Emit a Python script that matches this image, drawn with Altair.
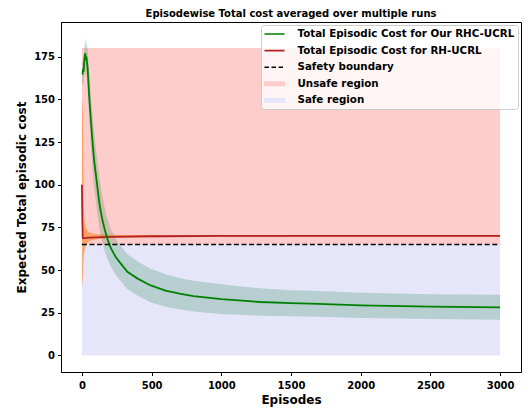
import altair as alt
import pandas as pd

# ---------------- data ----------------
green_ep = [0, 5, 8, 12, 16, 20, 24, 28, 32, 36, 41, 46, 52, 64, 76, 88, 100, 112, 124, 136,
            148, 166, 184, 207, 240, 272, 326, 400, 493, 600, 700, 800, 1000, 1280, 1500,
            1700, 2000, 2500, 3000]
green_mean = [165, 165, 168, 166, 171, 175, 177, 173, 175, 172, 168.6, 161, 152, 138, 125, 114,
              106, 98, 90, 84, 79, 73, 68, 63, 58, 54.5, 49, 45, 41, 38, 36.2, 34.8, 33, 31.3,
              30.6, 30.2, 29.3, 28.6, 28.2]
green_std = [7, 7, 7.5, 8, 8, 8.5, 9, 9, 9.5, 10, 11, 12, 13, 15, 16, 16, 16, 15.5, 15, 14,
             13.5, 12.5, 11.5, 11, 10.5, 10.3, 10.2, 10, 9.8, 9.5, 9.2, 9, 8.7, 8, 7.6, 7.5,
             7.4, 7.3, 7.3]

red_ep = [0, 3, 6, 8, 12, 16, 24, 29, 52, 100, 200, 300, 500, 600, 1000, 2000, 3000]
red_mean = [100, 80, 69, 68.6, 68.6, 68.7, 68.8, 68.9, 69, 69.2, 69.4, 69.6, 69.8, 69.8, 70, 70, 70]
red_hi = [150, 148, 142, 140, 100, 80, 76, 74.5, 72, 71, 70.7, 70.6, 70.5, 70.5, 70.5, 70.4, 70.4]
red_lo = [40, 42, 45, 46, 55, 60, 63, 65, 67, 68, 68.8, 69, 69.2, 69.3, 69.4, 69.5, 69.5]

safety_level = 65
unsafe_top = 180
ep_start, ep_end = 0, 3000

labels = ["Total Episodic Cost for Our RHC-UCRL", "Total Episodic Cost for RH-UCRL",
          "Safety boundary", "Unsafe region", "Safe region"]
colors = ["#008000", "#b22222", "#000000", "#ffcccc", "#e6e6fa"]

x_ticks = [0, 500, 1000, 1500, 2000, 2500, 3000]
y_ticks = [0, 25, 50, 75, 100, 125, 150, 175]

# ---------------- tables ----------------
green_df = pd.DataFrame({"ep": green_ep, "mean": green_mean,
                         "lo": [m - s for m, s in zip(green_mean, green_std)],
                         "hi": [m + s for m, s in zip(green_mean, green_std)],
                         "series": labels[0]})
red_df = pd.DataFrame({"ep": red_ep, "mean": red_mean, "lo": red_lo, "hi": red_hi,
                       "series": labels[1]})
bound_df = pd.DataFrame({"x0": [ep_start], "x1": [ep_end], "y": [safety_level],
                         "series": [labels[2]]})
region_df = pd.DataFrame({"x0": [ep_start, ep_start], "x1": [ep_end, ep_end],
                          "y0": [safety_level, 0], "y1": [unsafe_top, safety_level],
                          "series": [labels[3], labels[4]]})

FONT = "DejaVu Sans"
xscale = alt.Scale(domain=[-150, 3150], nice=False, zero=False)
yscale = alt.Scale(domain=[-9.7, 195.3], nice=False, zero=False)
xaxis = alt.Axis(values=x_ticks, format="d", title="Episodes")
yaxis = alt.Axis(values=y_ticks, format="d", title="Expected Total episodic cost")
cscale = alt.Scale(domain=labels, range=colors)

is_rect = "(datum.value == 'Unsafe region' || datum.value == 'Safe region')"
legend = alt.Legend(
    title=None, orient="top-right", offset=3, padding=3,
    fillColor="rgba(255,255,255,0.8)", strokeColor="#cccccc", cornerRadius=3,
    labelFont=FONT, labelFontSize=10.3, labelFontWeight="bold", labelColor="black",
    labelLimit=400, symbolSize=100, symbolStrokeWidth=1.6, symbolOffset=4.5,
    labelOffset=17, rowPadding=4.6, symbolOpacity=1,
    symbolType={"expr": is_rect + " ? 'M-2,-0.35H2V0.35H-2Z' : 'M-2,0H2'"},
    symbolFillColor={"expr": "datum.value == 'Unsafe region' ? '#ffcccc' : (datum.value == 'Safe region' ? '#e6e6fa' : 'transparent')"},
    symbolStrokeColor={"expr": "datum.value == 'Total Episodic Cost for Our RHC-UCRL' ? '#008000' : (datum.value == 'Total Episodic Cost for RH-UCRL' ? '#b22222' : (datum.value == 'Safety boundary' ? '#000000' : 'transparent'))"},
    symbolDash={"expr": "datum.value == 'Safety boundary' ? [4.5, 2.5] : [1, 0]"},
)

regions = alt.Chart(region_df).mark_rect().encode(
    x=alt.X("x0:Q", scale=xscale, axis=xaxis), x2="x1:Q",
    y=alt.Y("y0:Q", scale=yscale, axis=yaxis), y2="y1:Q",
    color=alt.Color("series:N", scale=cscale, legend=legend),
)

red_band = alt.Chart(red_df).mark_area(color="#ff7f0e", opacity=0.55).encode(
    x=alt.X("ep:Q", scale=xscale, axis=xaxis),
    y=alt.Y("lo:Q", scale=yscale, axis=yaxis), y2="hi:Q",
)
green_band = alt.Chart(green_df).mark_area(color="#2e8b57", opacity=0.25).encode(
    x=alt.X("ep:Q", scale=xscale, axis=xaxis),
    y=alt.Y("lo:Q", scale=yscale, axis=yaxis), y2="hi:Q",
)
red_line = alt.Chart(red_df).mark_line(strokeWidth=1.8).encode(
    x=alt.X("ep:Q", scale=xscale, axis=xaxis),
    y=alt.Y("mean:Q", scale=yscale, axis=yaxis),
    color=alt.Color("series:N", scale=cscale, legend=None),
)
green_line = alt.Chart(green_df).mark_line(strokeWidth=1.8).encode(
    x=alt.X("ep:Q", scale=xscale, axis=xaxis),
    y=alt.Y("mean:Q", scale=yscale, axis=yaxis),
    color=alt.Color("series:N", scale=cscale, legend=None),
)
boundary = alt.Chart(bound_df).mark_rule(strokeWidth=1.6, strokeDash=[5, 2.6]).encode(
    x=alt.X("x0:Q", scale=xscale, axis=xaxis), x2="x1:Q",
    y=alt.Y("y:Q", scale=yscale, axis=yaxis),
    color=alt.Color("series:N", scale=cscale, legend=None),
)

chart = alt.layer(regions, red_band, green_band, red_line, green_line, boundary).properties(
    width=460, height=350,
    title=alt.TitleParams("Episodewise Total cost averaged over multiple runs", font=FONT,
                          fontSize=10, fontWeight="bold", anchor="middle", offset=3,
                          color="black"),
    autosize=alt.AutoSizeParams(type="none"),
    padding={"left": 53, "top": 14, "right": 3, "bottom": 36},
).configure_view(stroke="black", strokeWidth=1).configure_axis(
    grid=False, domainColor="black", domainWidth=1, tickColor="black", tickWidth=1,
    tickSize=3.5, labelFont=FONT, labelFontSize=10, labelFontWeight="bold",
    labelColor="black", labelPadding=3, titleFont=FONT, titleFontSize=12,
    titleFontWeight="bold", titleColor="black",
).configure_axisX(titlePadding=4, labelPadding=5).configure_axisY(titlePadding=5)

chart.save("out.html", embed_options={"renderer": "svg", "actions": False})
